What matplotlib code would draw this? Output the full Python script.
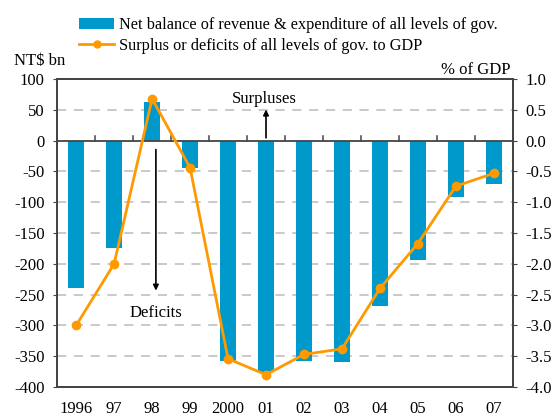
import numpy as np
import matplotlib.pyplot as plt
from matplotlib.patches import Patch
from matplotlib.lines import Line2D

plt.rcParams['font.family'] = ['Liberation Serif', 'DejaVu Serif']

years = ['1996', '97', '98', '99', '2000', '01', '02', '03', '04', '05', '06', '07']
net_balance = [-240, -175, 62, -45, -357, -376, -357, -360, -269, -193, -91, -70]
gdp_ratio = [-3.0, -2.0, 0.68, -0.44, -3.54, -3.8, -3.47, -3.38, -2.4, -1.67, -0.74, -0.53]

blue = '#0099CC'
orange = '#FF9900'
frame = '#444444'

fig = plt.figure(figsize=(5.55, 4.18), dpi=100)
ax = fig.add_axes([0.103, 0.074, 0.821, 0.737])
x = np.arange(len(years))

# Bars
ax.bar(x, net_balance, width=0.42, color=blue, zorder=2)
ax.set_xlim(-0.5, len(years) - 0.5)
ax.set_ylim(-400, 100)
ax.set_yticks(np.arange(-400, 101, 50))
ax.set_yticklabels([str(v) for v in range(-400, 101, 50)], fontsize=12)
for v in range(-350, 100, 50):
    if v != 0:
        ax.axhline(v, color='#BBBBBB', linestyle=(0, (6, 5)), linewidth=1.1, zorder=1)
ax.axhline(0, color=frame, linewidth=1.3, zorder=3)

# boundary ticks on the zero line
for b in np.arange(0.5, len(years) - 0.5, 1.0):
    ax.plot([b, b], [0, 8], color=frame, linewidth=1.1, zorder=3)

ax.set_xticks(x)
ax.set_xticklabels(years, fontsize=12)
ax.tick_params(axis='x', length=0, pad=10)
ax.tick_params(axis='y', length=3, color=frame, pad=6)
for s in ax.spines.values():
    s.set_color(frame)
    s.set_linewidth(1.3)

# Right axis line
ax2 = ax.twinx()
ax2.plot(x, gdp_ratio, color=orange, linewidth=2, marker='o', markersize=6, zorder=4)
ax2.set_ylim(-4.0, 1.0)
ax2.set_yticks(np.arange(-4.0, 1.01, 0.5))
ax2.set_yticklabels([f"{v:.1f}" for v in np.arange(-4.0, 1.01, 0.5)], fontsize=12)
ax2.tick_params(axis='y', length=3, color=frame, pad=6)
for s in ax2.spines.values():
    s.set_color(frame)
    s.set_linewidth(1.3)

# Annotations
ax.annotate('', xy=(5.0, 55), xytext=(5.0, 0),
            arrowprops=dict(arrowstyle='-|>', color='black', lw=1.2, mutation_scale=8))
ax.text(4.95, 68, 'Surpluses', fontsize=12, ha='center', va='center')
ax.annotate('', xy=(2.1, -248), xytext=(2.1, -10),
            arrowprops=dict(arrowstyle='-|>', color='black', lw=1.2, mutation_scale=8))
ax.text(2.1, -279, 'Deficits', fontsize=12, ha='center', va='center')

# Axis unit labels
fig.text(0.025, 0.855, 'NT$ bn', fontsize=12, ha='left', va='center')
fig.text(0.92, 0.832, '% of GDP', fontsize=12, ha='right', va='center')

# Legend
handles = [Patch(facecolor=blue, edgecolor='none'),
           Line2D([0], [0], color=orange, lw=2, marker='o', markersize=5)]
labels = ['Net balance of revenue & expenditure of all levels of gov.',
          'Surplus or deficits of all levels of gov. to GDP']
fig.legend(handles, labels, loc='upper left', bbox_to_anchor=(0.13, 0.975),
           frameon=False, fontsize=11.7, handlelength=2.2, handletextpad=0.3,
           labelspacing=0.3, borderaxespad=0)

fig.savefig('out.png', dpi=100)
